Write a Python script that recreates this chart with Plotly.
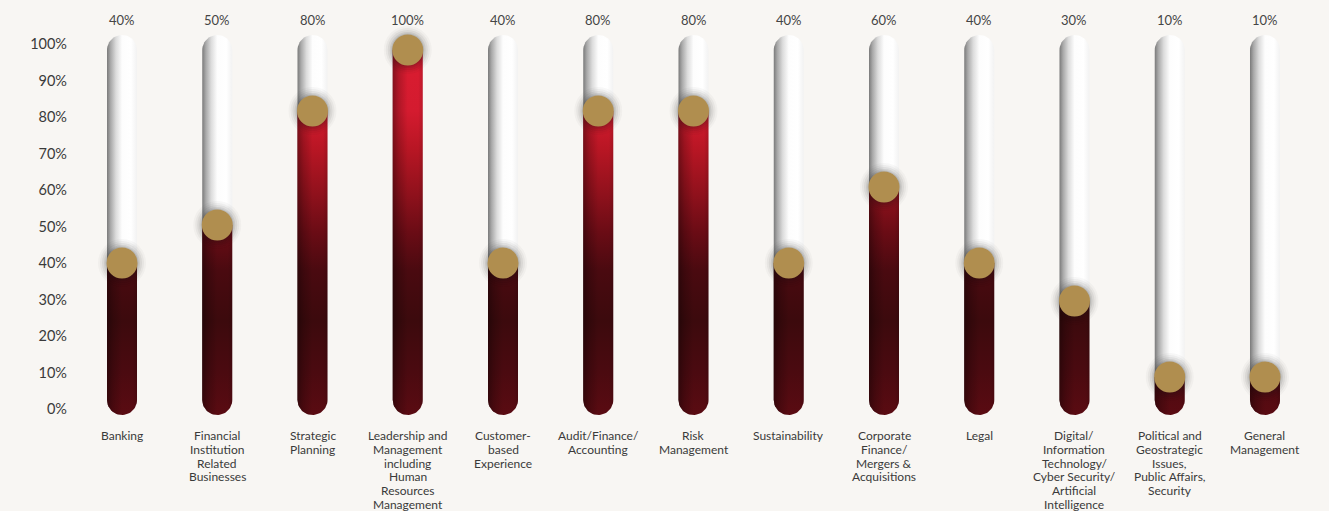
import numpy as np
import plotly.graph_objects as go

categories = [
    "Banking",
    "Financial\nInstitution\nRelated\nBusinesses",
    "Strategic\nPlanning",
    "Leadership and\nManagement\nincluding\nHuman\nResources\nManagement",
    "Customer-\nbased\nExperience",
    "Audit/Finance/\nAccounting",
    "Risk\nManagement",
    "Sustainability",
    "Corporate\nFinance/\nMergers &\nAcquisitions",
    "Legal",
    "Digital/\nInformation\nTechnology/\nCyber Security/\nArtificial\nIntelligence",
    "Political and\nGeostrategic\nIssues,\nPublic Affairs,\nSecurity",
    "General\nManagement",
]
values = [40, 50, 80, 100, 40, 80, 80, 40, 60, 40, 30, 10, 10]
tick_values = list(range(0, 101, 10))
tick_labels = [f"{v}%" for v in tick_values]

# ---- layout geometry ----
W, H = 1329, 511
ML = 68
x_min, x_max = -0.567, 12.672
px_per_x = (W - ML) / (x_max - x_min)
y_min, y_max = -25.26, 109.21            # data axis (tubes / dots)
px_per_y = H / (y_max - y_min)
t_min, t_max = -27.95, 112.05            # tick-label axis

R_PX = 15
rx = R_PX / px_per_x
ry = R_PX / px_per_y

FONT = "Lato, 'Open Sans', sans-serif"
BG = "#f8f6f3"


def capsule(xc, y0, y1, round_top=True):
    th = np.linspace(np.pi, 2 * np.pi, 30)
    bx = xc + rx * np.cos(th)
    by = y0 + ry + ry * np.sin(th)
    if round_top:
        th2 = np.linspace(0, np.pi, 30)
        tx = xc + rx * np.cos(th2)
        ty = y1 - ry + ry * np.sin(th2)
    else:
        tx = np.array([xc + rx, xc - rx])
        ty = np.array([y1, y1])
    xs = np.concatenate([bx, tx, [bx[0]]])
    ys = np.concatenate([by, ty, [by[0]]])
    return xs, ys


fig = go.Figure()

# invisible trace so the tick-label axis gets drawn
fig.add_trace(go.Scatter(x=[0] * len(tick_values), y=tick_values, yaxis="y2",
                         mode="markers", marker=dict(opacity=0),
                         hoverinfo="skip", showlegend=False))

white_grad = dict(type="horizontal",
                  colorscale=[[0, "#7a7a7a"], [0.12, "#a9a9a9"], [0.3, "#dcdcdc"],
                              [0.5, "#fdfdfd"], [0.8, "#ffffff"], [1, "#f2f2f2"]])
red_grad = dict(type="vertical", start=0, stop=100,
                colorscale=[[0, "#5a0b12"], [0.12, "#4a0a10"], [0.25, "#3c0a0d"],
                            [0.38, "#4a0a10"], [0.48, "#6a0c15"], [0.58, "#8f111c"],
                            [0.7, "#b81624"], [0.8, "#d41b2f"], [0.9, "#d81c30"],
                            [1, "#c5172b"]])
shade_grad = dict(type="horizontal",
                  colorscale=[[0, "rgba(0,0,0,0.38)"], [0.2, "rgba(0,0,0,0.18)"],
                              [0.5, "rgba(0,0,0,0)"], [0.85, "rgba(0,0,0,0)"],
                              [1, "rgba(0,0,0,0.12)"]])

dot_y = []
for i, v in enumerate(values):
    c = min(max(v, ry), 100 - ry)
    dot_y.append(c)
    xs, ys = capsule(i, 0, 100, True)
    fig.add_trace(go.Scatter(x=xs, y=ys, mode="lines", fill="toself",
                             fillgradient=white_grad, line=dict(width=0),
                             hoverinfo="skip", showlegend=False))
    xs, ys = capsule(i, 0, c, False)
    fig.add_trace(go.Scatter(x=xs, y=ys, mode="lines", fill="toself",
                             fillgradient=red_grad, line=dict(width=0),
                             hoverinfo="skip", showlegend=False))
    fig.add_trace(go.Scatter(x=xs, y=ys, mode="lines", fill="toself",
                             fillgradient=shade_grad, line=dict(width=0),
                             hoverinfo="skip", showlegend=False))

xi = list(range(len(values)))
# soft shadow around the dots
for size, alpha in [(48, 0.03), (44, 0.045), (40, 0.06), (36, 0.08), (33, 0.1)]:
    fig.add_trace(go.Scatter(x=xi, y=dot_y, mode="markers",
                             marker=dict(size=size, color=f"rgba(20,20,20,{alpha})",
                                         line=dict(width=0)),
                             hoverinfo="skip", showlegend=False))
fig.add_trace(go.Scatter(x=xi, y=dot_y, mode="markers",
                         marker=dict(size=31, color="#b08e4f", line=dict(width=0)),
                         hoverinfo="skip", showlegend=False))

# value labels on top
for i, v in enumerate(values):
    fig.add_annotation(x=i, xref="x", y=(H - 20.5) / H, yref="paper",
                       text=f"{v}%", showarrow=False, yanchor="middle",
                       font=dict(family=FONT, size=13, color="#454545"))

# category labels, one annotation per line
LINE_H = 13.8
for i, cat in enumerate(categories):
    for j, line in enumerate(cat.split("\n")):
        py = 435.5 + j * LINE_H
        fig.add_annotation(x=i, xref="x", y=(H - py) / H, yref="paper",
                           text=line, showarrow=False, yanchor="middle",
                           font=dict(family=FONT, size=12, color="#3a3a3a"))

fig.update_layout(
    width=W, height=H,
    margin=dict(l=ML, r=0, t=0, b=0),
    paper_bgcolor=BG, plot_bgcolor=BG,
    hovermode=False,
    xaxis=dict(range=[x_min, x_max], visible=False, fixedrange=True),
    yaxis=dict(range=[y_min, y_max], visible=False, fixedrange=True),
    yaxis2=dict(range=[t_min, t_max], overlaying="y", side="left",
                tickvals=tick_values, ticktext=tick_labels,
                showgrid=False, zeroline=False, showline=False, ticks="",
                tickfont=dict(family=FONT, size=14.5, color="#3a3a3a"),
                fixedrange=True),
)

fig.write_html("out.html")
